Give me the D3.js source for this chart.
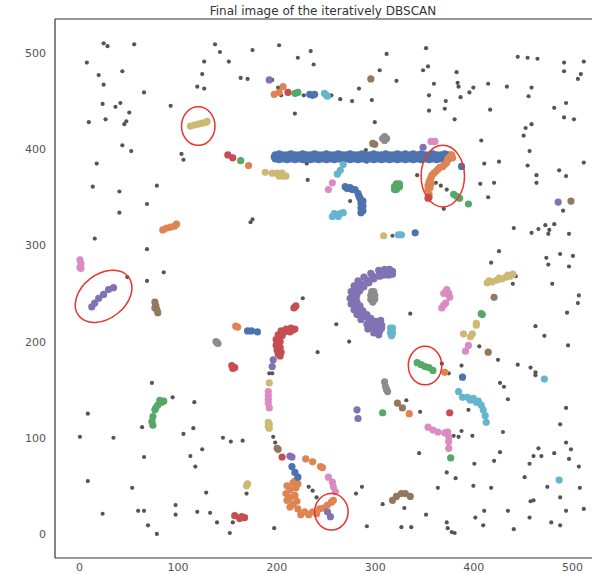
<!DOCTYPE html>
<html>
<head>
<meta charset="utf-8">
<title>Final image of the iteratively DBSCAN</title>
<script src="https://d3js.org/d3.v7.min.js"></script>
<style>
  body { margin: 0; background: #fff; }
  svg { display: block; font-family: "DejaVu Sans", sans-serif; }
  .tick text { fill: #555; font-size: 11px; }
</style>
</head>
<body>
<div id="chart"></div>
<script>
// ---------------- data ----------------
const chartTitle = "Final image of the iteratively DBSCAN";
const xTicks = [0, 100, 200, 300, 400, 500];
const yTicks = [0, 100, 200, 300, 400, 500];

// points DBSCAN left as noise
const noisePoints = [
  [25,510],[29,507],[56,509],[8,490],[44,481],[20,477],[25,467],[66,459],[24,447],[42,448],
  [37,444],[51,438],[10,428],[27,431],[48,429],[46,426],[93,445],[44,404],[53,398],[18,385],
  [104,395],[106,389],[14,361],[41,356],[79,362],[138,509],[143,501],[127,491],[152,491],[125,478],
  [120,465],[127,463],[176,503],[203,508],[164,474],[171,473],[219,437],[222,495],[196,472],[202,464],
  [205,456],[228,456],[256,456],[235,502],[238,488],[312,499],[352,505],[305,482],[322,471],[284,463],
  [265,452],[277,450],[297,451],[300,428],[349,482],[354,486],[383,480],[360,468],[384,469],[385,465],
  [400,464],[396,459],[387,454],[355,456],[372,450],[371,442],[355,440],[381,431],[417,441],[415,468],
  [434,465],[445,496],[455,495],[465,494],[459,464],[456,455],[492,490],[512,491],[492,481],[509,478],
  [506,473],[494,448],[482,443],[492,433],[502,431],[459,426],[453,422],[451,414],[408,409],[457,398],
  [426,387],[411,385],[455,383],[512,386],[464,373],[487,378],[494,372],[407,364],[421,365],[464,365],
  [415,350],[231,385],[292,387],[291,399],[232,368],[343,373],[362,365],[367,362],[373,358],[275,346],
  [370,338],[491,336],[441,318],[459,313],[466,317],[473,321],[482,322],[477,316],[476,312],[497,312],
  [318,310],[426,294],[418,282],[474,287],[476,280],[488,291],[501,289],[497,278],[443,268],[440,260],
  [480,260],[507,248],[506,240],[227,245],[336,229],[495,230],[261,218],[463,216],[472,206],[406,195],
  [274,200],[496,196],[242,189],[425,181],[445,176],[458,173],[463,168],[463,165],[388,175],[368,177],
  [375,167],[427,157],[431,153],[435,140],[395,129],[346,127],[332,139],[494,131],[488,114],[430,106],
  [388,107],[380,102],[385,101],[399,102],[345,84],[427,85],[466,89],[461,81],[469,81],[482,84],
  [494,95],[499,88],[497,78],[507,70],[457,73],[401,73],[421,76],[373,64],[382,58],[452,59],
  [364,48],[400,50],[418,48],[475,49],[488,38],[508,48],[308,31],[330,27],[352,20],[402,17],
  [411,24],[435,24],[458,34],[461,35],[457,17],[494,24],[512,26],[327,7],[337,7],[373,12],
  [374,6],[378,2],[381,1],[410,9],[441,5],[479,12],[488,9],[287,49],[281,42],[292,8],
  [233,49],[237,45],[241,38],[117,137],[116,110],[106,104],[146,100],[154,96],[166,97],[125,88],
  [113,81],[118,70],[198,6],[170,42],[140,12],[156,12],[133,22],[120,23],[129,43],[199,95],
  [197,101],[196,167],[9,125],[1,101],[35,100],[64,111],[66,80],[9,55],[54,48],[24,21],
  [60,24],[66,24],[70,9],[79,0],[95,142],[98,30],[98,20],[153,1],[69,343],[41,334],
  [16,307],[69,296],[86,272],[49,267],[69,263],[174,324],[176,327],[74,157],[193,167]
];

// cluster labels: 0 blue, 1 orange, 2 green, 3 red, 4 purple, 5 brown, 6 pink, 7 grey, 8 olive, 9 cyan
const longBar = [
  [198,392],[199,394],[203,395],[207,394],[211,394],[215,395],[219,394],[223,394],[227,395],[231,394],
  [235,394],[239,395],[243,394],[247,394],[251,395],[255,394],[259,394],[263,395],[267,394],[271,394],
  [275,395],[279,394],[283,394],[287,395],[291,394],[295,394],[299,395],[303,394],[307,394],[311,395],
  [315,394],[319,394],[323,395],[327,394],[331,395],[335,394],[339,395],[343,394],[347,395],[351,394],
  [355,394],[359,395],[363,394],[367,394],[371,395],[375,394],
  [199,390],[203,389],[207,390],[211,389],[215,390],[219,389],[223,390],[227,389],[231,390],[235,389],
  [239,390],[243,389],[247,390],[251,389],[255,390],[259,389],[263,390],[267,389],[271,390],[275,389],
  [279,390],[283,389],[287,390],[291,389],[295,390],[299,389],[303,390],[307,389],[311,390],[315,389],
  [319,390],[323,389],[327,390],[331,389],[335,390],[339,389],[343,390],[347,389],[351,390],[355,389],
  [359,390],[363,389],[367,390],[371,389],[375,390]
];
const hookTop = [
  [376,392],[373,386],[369,382],[364,379],[360,375],[357,370],[355,366],[354,362],[354,358],[355,353],
  [374,390],[371,384],[366,381],[362,377],[358,373],[356,368],[357,364],[356,360],[378,394],[379,391]
];
const purpleArc = [
  [315,272],[310,272],[305,271],[298,268],[292,264],[286,260],[282,256],[279,251],[278,245],[279,240],
  [282,235],[285,230],[289,226],[294,221],[299,218],[303,215],[305,211],
  [315,275],[310,275],[304,274],[296,271],[289,267],[283,263],[279,258],[276,252],[275,245],[276,239],
  [279,233],[282,228],[286,223],[292,218],[297,214],[302,211],[304,207],
  [314,269],[309,269],[305,268],[299,265],[294,261],[289,257],[285,253],[282,249],[281,245],[282,241],
  [285,237],[288,232],[292,228],[296,224],[301,221],[305,218],[307,214],
  [297,216],[300,213],[303,219],[307,217],[318,273],[318,270],[293,213],[299,209],[306,222]
];
const redArc = [
  [217,212],[212,211],[207,209],[204,205],[202,200],[202,194],[203,189],[204,185],[215,214],[210,213],
  [205,211],[202,207],[200,202],[200,196],[201,191],[202,187],[214,210],[206,206],[204,200],[204,194],
  [205,189],[219,213]
];
const hookBottom = [
  [217,53],[214,46],[214,38],[217,31],[222,26],[229,23],[237,23],[244,26],[252,30],[256,33],
  [211,50],[210,42],[211,35],[214,28],[220,48],[219,40],[221,34],[225,20],[233,20],[241,21],
  [219,55],[222,52],[258,35],[248,27]
];
const cyanArc = [
  [385,148],[389,142],[394,142],[400,141],[405,138],[408,134],[410,129],[412,123],[413,116],[397,139],[403,137]
];
const greenArc = [
  [84,137],[80,134],[77,129],[75,122],[74,117],[75,113],[82,139],[86,138],[78,131]
];
const blueArc = [
  [270,361],[275,360],[280,358],[283,354],[285,349],[286,344],[286,339],[286,334],[272,359],[284,351],
  [288,346],[288,341],[288,336],[277,358]
];

const clusters = [
  [0, longBar], [1, hookTop], [4, purpleArc], [3, redArc], [1, hookBottom], [9, cyanArc],
  [2, greenArc], [0, blueArc],
  [3, [[354,349],[355,350]]],
  [2, [[380,353],[386,349],[395,343],[383,351]]],
  [0, [[388,382]]],
  [6, [[357,408],[361,408]]],
  [4, [[349,402]]],
  [5, [[298,406],[300,405]]],
  [7, [[308,411],[312,411],[310,413],[310,409]]],
  [5, [[296,473]]],
  [4, [[193,472]]],
  [1, [[198,457],[203,459],[207,465]]],
  [3, [[212,459]]],
  [2, [[219,458],[222,459]]],
  [0, [[234,457],[237,456],[239,457]]],
  [9, [[249,458],[251,456],[252,455]]],
  [8, [[113,424],[117,425],[121,426],[125,427],[129,428],[130,429]]],
  [3, [[151,394],[156,391]]],
  [2, [[164,388]]],
  [1, [[172,383]]],
  [8, [[189,376],[196,375],[201,375],[204,373],[207,372],[210,372],[206,375],[203,372]]],
  [9, [[268,384],[265,378],[262,374]]],
  [6, [[257,365],[253,358]]],
  [2, [[320,361],[325,361],[322,364],[322,358],[325,364],[320,358],[322,361]]],
  [9, [[257,330],[261,332],[265,333],[268,334],[259,333],[263,330]]],
  [8, [[309,310]]],
  [9, [[324,311],[327,311]]],
  [0, [[341,313]]],
  [7, [[297,252],[299,252],[296,248],[300,248],[296,244],[300,244],[298,241],[298,247]]],
  [9, [[316,214],[318,214],[316,209],[318,209],[317,206]]],
  [6, [[373,254],[376,246],[372,240],[368,235],[370,250],[374,250],[370,238],[375,250]]],
  [8, [[414,261],[419,262],[424,264],[429,265],[433,267],[437,268],[440,270],[416,263],[426,266],[435,269]]],
  [5, [[421,246]]],
  [2, [[408,229],[409,228]]],
  [8, [[403,217],[403,219],[390,208],[399,208],[397,205]]],
  [6, [[395,196],[392,190]]],
  [2, [[343,178],[347,176],[351,174],[355,173],[359,170]]],
  [1, [[371,168]]],
  [0, [[389,163]]],
  [9, [[472,161]]],
  [3, [[218,235],[220,237]]],
  [1, [[161,215],[159,216]]],
  [0, [[171,211],[175,211],[181,210]]],
  [7, [[139,200],[141,198],[140,199]]],
  [3, [[155,175],[158,173],[156,172]]],
  [4, [[197,181],[196,174]]],
  [8, [[193,157]]],
  [6, [[192,148],[192,144],[192,140],[192,136],[193,131]]],
  [8, [[192,116],[192,112],[193,110],[193,114]]],
  [5, [[202,88],[201,89]]],
  [3, [[206,80]]],
  [4, [[214,81],[216,80]]],
  [0, [[216,70],[219,64],[222,59]]],
  [1, [[230,78],[237,75],[245,70],[247,69]]],
  [6, [[253,59],[257,54],[258,49],[260,44]]],
  [4, [[252,23],[255,18]]],
  [5, [[318,35],[322,39],[327,42],[331,42],[336,39]]],
  [4, [[282,129],[283,120]]],
  [2, [[308,126]]],
  [5, [[323,136],[328,131]]],
  [1, [[335,125]]],
  [3, [[376,126]]],
  [6, [[354,111],[359,108],[364,106],[371,105],[374,106],[375,101],[375,96],[375,89]]],
  [2, [[377,79]]],
  [9, [[487,56]]],
  [7, [[310,158],[311,153],[313,148],[312,150]]],
  [3, [[158,19],[163,16],[168,17],[165,18]]],
  [8, [[170,50],[171,52]]],
  [1, [[85,316],[89,318],[93,319],[97,320],[99,322]]],
  [6, [[1,285],[2,281],[1,277],[2,276]]],
  [4, [[13,236],[16,240],[20,245],[25,249],[30,254],[35,256]]],
  [5, [[77,241],[78,237],[79,233],[80,230],[77,235]]],
  [5, [[415,189]]],
  [4, [[486,345]]],
  [5, [[499,346]]]
];

// red hand-drawn rings: centre, radii (data units), tilt in degrees
const circledRegions = [
  { cx: 121, cy: 424, rx: 17, ry: 20, tilt: 0 },
  { cx: 369, cy: 372, rx: 22, ry: 32, tilt: 0 },
  { cx: 25, cy: 247, rx: 32, ry: 23, tilt: -38 },
  { cx: 351, cy: 175, rx: 17, ry: 20, tilt: 0 },
  { cx: 256, cy: 23, rx: 17, ry: 19, tilt: 0 }
];

// ---------------- layout ----------------
const W = 592, H = 574;
const frame = { left: 55, top: 19, right: 591, bottom: 558 };
const palette = ["#4C72B0", "#DD8452", "#55A868", "#C44E52", "#8172B3",
                 "#937860", "#DA8BC3", "#8C8C8C", "#CCB974", "#64B5CD"];

const svg = d3.select("#chart").append("svg")
  .attr("width", W).attr("height", H);

const x = d3.scaleLinear().domain([-24.3, 519.3]).range([frame.left, frame.right]);
const y = d3.scaleLinear().domain([-25, 535.3]).range([frame.bottom, frame.top]);
const color = d3.scaleOrdinal().domain(d3.range(10)).range(palette);

// title
svg.append("text")
  .attr("x", (frame.left + frame.right) / 2)
  .attr("y", 15)
  .attr("text-anchor", "middle")
  .style("font-size", "12px")
  .style("fill", "#333")
  .text(chartTitle);

// axes (labels only, no tick marks)
const xAxis = svg.append("g")
  .attr("transform", "translate(0," + frame.bottom + ")")
  .call(d3.axisBottom(x).tickValues(xTicks).tickSize(0).tickPadding(5));
const yAxis = svg.append("g")
  .attr("transform", "translate(" + frame.left + ",0)")
  .call(d3.axisLeft(y).tickValues(yTicks).tickSize(0).tickPadding(9));
xAxis.select(".domain").remove();
yAxis.select(".domain").remove();
svg.selectAll(".tick text").style("font-family", "DejaVu Sans, sans-serif");

// points
const plot = svg.append("g");

plot.selectAll("circle.noise")
  .data(noisePoints)
  .enter().append("circle")
  .attr("class", "noise")
  .attr("cx", d => x(d[0]))
  .attr("cy", d => y(d[1]))
  .attr("r", 2.1)
  .style("fill", "#555");

const groups = plot.selectAll("g.cluster")
  .data(clusters)
  .enter().append("g")
  .attr("class", "cluster")
  .style("fill", d => color(d[0]));

groups.selectAll("circle")
  .data(d => d[1])
  .enter().append("circle")
  .attr("cx", d => x(d[0]))
  .attr("cy", d => y(d[1]))
  .attr("r", 3.6);

// red rings
svg.selectAll("ellipse.ring")
  .data(circledRegions)
  .enter().append("ellipse")
  .attr("class", "ring")
  .attr("transform", d => "translate(" + x(d.cx) + "," + y(d.cy) + ") rotate(" + d.tilt + ")")
  .attr("rx", d => x(d.rx) - x(0))
  .attr("ry", d => y(0) - y(d.ry))
  .style("fill", "none")
  .style("stroke", "#e8352b")
  .style("stroke-width", 1.5);

// spines (right one falls just outside the window)
const spine = svg.append("g").style("stroke", "#333").style("stroke-width", 1.2);
spine.append("line").attr("x1", frame.left).attr("x2", frame.left).attr("y1", frame.top).attr("y2", frame.bottom);
spine.append("line").attr("x1", frame.left).attr("x2", frame.right + 5).attr("y1", frame.bottom).attr("y2", frame.bottom);
spine.append("line").attr("x1", frame.left).attr("x2", frame.right + 5).attr("y1", frame.top).attr("y2", frame.top);
</script>
</body>
</html>
